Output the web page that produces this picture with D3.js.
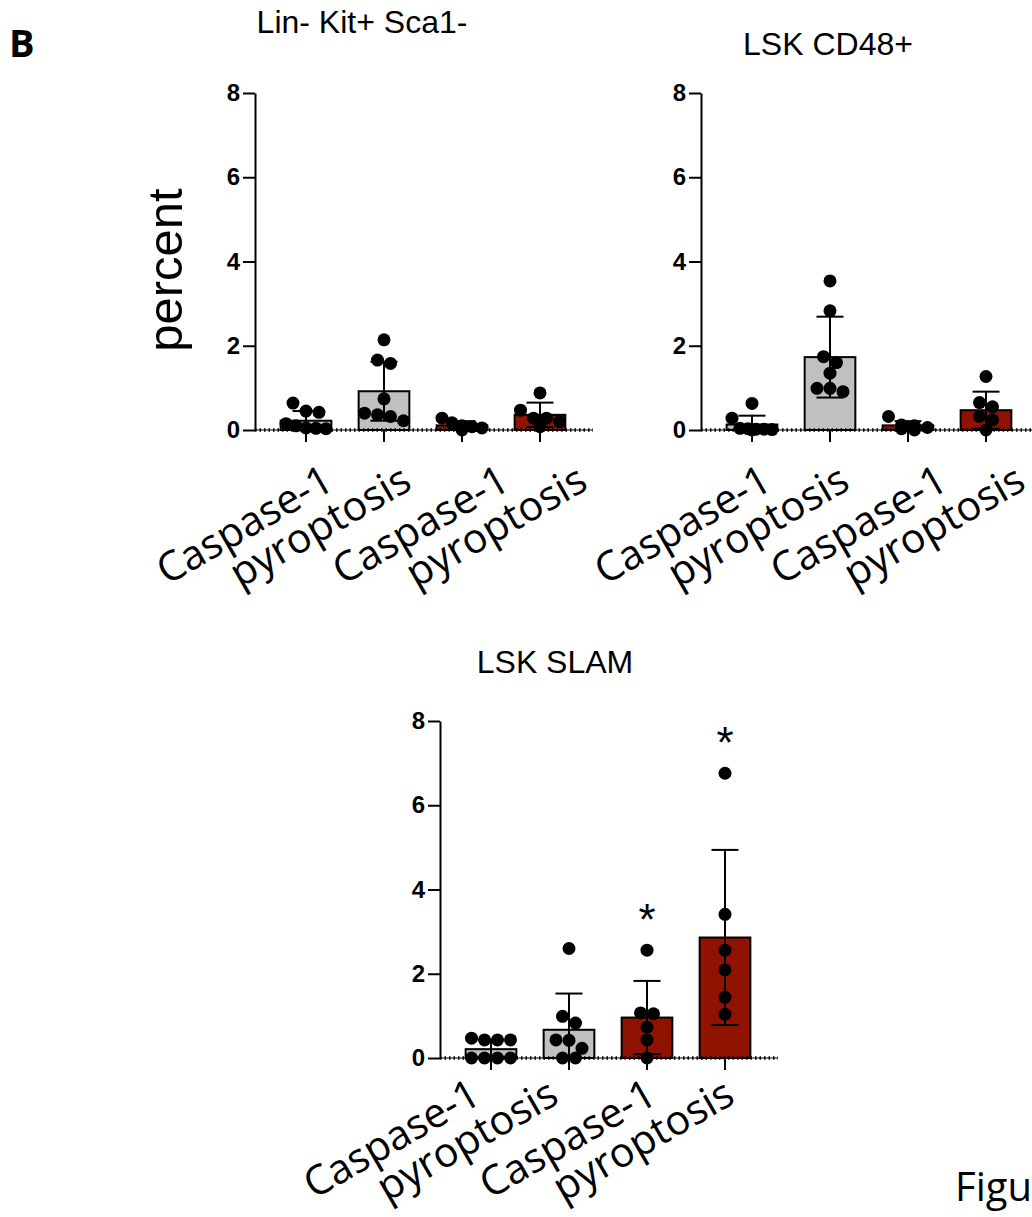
<!doctype html>
<html>
<head>
<style>
  body { margin: 0; background: #fff; }
  .tick text { font-family: "Liberation Sans", Arial, sans-serif; }
</style>
<script src="https://d3js.org/d3.v7.min.js"></script>
</head>
<body>
<svg width="1032" height="1217"></svg>
<script>
// ---- data ----
var titles = ["Lin- Kit+ Sca1-", "LSK CD48+", "LSK SLAM"];
var groups = ["Caspase-1", "pyroptosis", "Caspase-1", "pyroptosis"];
var yTicks = [0, 2, 4, 6, 8];

// individual points per group (percent)
var linKitPoints = [
  [0.64, 0.45, 0.42, 0.15, 0.10, 0.05, 0.04, 0.03],
  [2.14, 1.66, 1.58, 0.74, 0.40, 0.36, 0.32, 0.22],
  [0.28, 0.17, 0.10, 0.08, 0.05, 0.00],
  [0.88, 0.47, 0.28, 0.28, 0.20, 0.08]
];
var cd48Points = [
  [0.63, 0.28, 0.04, 0.03, 0.02, 0.02, 0.01, 0.00],
  [3.54, 2.83, 1.74, 1.60, 1.35, 0.99, 0.99, 0.91],
  [0.32, 0.12, 0.10, 0.06, 0.03, 0.00],
  [1.27, 0.65, 0.55, 0.32, 0.24, 0.00]
];
var slamPoints = [
  [0.47, 0.43, 0.43, 0.43, 0.00, 0.00, 0.00, 0.00],
  [2.60, 0.99, 0.83, 0.43, 0.42, 0.23, 0.00, 0.00],
  [2.56, 1.07, 1.05, 0.73, 0.43, 0.00],
  [6.76, 3.41, 2.56, 2.09, 1.44, 1.04]
];

// bar heights (mean) and error bars (SD)
var linKitMean = [0.22, 0.92, 0.11, 0.36];
var linKitSd   = [0.23, 0.70, 0.10, 0.29];
var cd48Mean   = [0.13, 1.73, 0.11, 0.47];
var cd48Sd     = [0.21, 0.96, 0.10, 0.44];
var slamMean   = [0.21, 0.67, 0.96, 2.86];
var slamSd     = [0.23, 0.86, 0.87, 2.08];

// significance marks
var linKitSig = ["", "", "", ""];
var cd48Sig   = ["", "", "", ""];
var slamSig   = ["", "", "*", "*"];

var barColors = ["#c0c0c0", "#c0c0c0", "#8f1300", "#8f1300"];

var svg = d3.select("svg");

var W = 338, H = 337, r = 6.5;

var panels = [
  {x: 255, y: 93,  title: titles[0], tx: 362, ty: 33, lx: 30, ly: 58, pts: linKitPoints, mean: linKitMean, sd: linKitSd, sig: linKitSig},
  {x: 701, y: 93,  title: titles[1], tx: 828, ty: 55, lx: 22, ly: 58, pts: cd48Points,   mean: cd48Mean,   sd: cd48Sd,   sig: cd48Sig},
  {x: 440, y: 721, title: titles[2], tx: 555, ty: 673, lx: -8, ly: 44, pts: slamPoints,  mean: slamMean,   sd: slamSd,   sig: slamSig}
];

// arrange points of one column in rows, spread symmetrically (GraphPad-style scatter)
function spread(vals, y, maxHalf) {
  var d = 2 * r;
  var idx = vals.map(function(v, i) { return i; })
    .sort(function(a, b) { return vals[b] - vals[a]; });
  var out = new Array(vals.length);
  var rows = [];
  idx.forEach(function(i) {
    var last = rows[rows.length - 1];
    if (last && Math.abs(y(vals[i]) - y(vals[last[0]])) < d * 0.9) last.push(i);
    else rows.push([i]);
  });
  rows.forEach(function(row) {
    var n = row.length;
    var step = n > 1 ? Math.min(d, 2 * maxHalf / (n - 1)) : 0;
    row.forEach(function(i, k) { out[i] = (k - (n - 1) / 2) * step; });
  });
  return out;
}

panels.forEach(function(p) {
  var g = svg.append("g").attr("transform", "translate(" + p.x + "," + p.y + ")");

  var y = d3.scaleLinear().domain([0, 8]).range([H, 0]);
  var x = d3.scaleBand().domain(d3.range(groups.length)).range([12, 12 + 4 * 78]);
  var bw = x.bandwidth() * 0.65;

  // bars
  g.selectAll(".bar").data(p.mean).enter().append("rect")
    .attr("x", function(d, i) { return x(i) + x.bandwidth() / 2 - bw / 2; })
    .attr("y", function(d) { return y(d); })
    .attr("width", bw)
    .attr("height", function(d) { return y(0) - y(d); })
    .attr("fill", function(d, i) { return barColors[i]; })
    .attr("stroke", "#000").attr("stroke-width", 2);

  // error bars
  var eb = g.selectAll(".err").data(p.mean).enter().append("g")
    .attr("transform", function(d, i) { return "translate(" + (x(i) + x.bandwidth() / 2) + ",0)"; });
  eb.append("line")
    .attr("y1", function(d, i) { return y(Math.max(0, d - p.sd[i])); })
    .attr("y2", function(d, i) { return y(d + p.sd[i]); })
    .attr("stroke", "#000").attr("stroke-width", 2);
  eb.append("line").attr("x1", -13.5).attr("x2", 13.5)
    .attr("y1", function(d, i) { return y(d + p.sd[i]); })
    .attr("y2", function(d, i) { return y(d + p.sd[i]); })
    .attr("stroke", "#000").attr("stroke-width", 2);
  eb.append("line").attr("x1", -13.5).attr("x2", 13.5)
    .attr("y1", function(d, i) { return y(Math.max(0, d - p.sd[i])); })
    .attr("y2", function(d, i) { return y(Math.max(0, d - p.sd[i])); })
    .attr("stroke", "#000").attr("stroke-width", 2);

  // dotted baseline
  g.append("line").attr("x1", 0).attr("x2", W).attr("y1", y(0)).attr("y2", y(0))
    .attr("stroke", "#000").attr("stroke-width", 1.2);
  g.append("line").attr("x1", 0).attr("x2", W).attr("y1", y(0)).attr("y2", y(0))
    .attr("stroke", "#000").attr("stroke-width", 3.5).attr("stroke-dasharray", "1.5,3");

  // points
  p.pts.forEach(function(vals, i) {
    var off = spread(vals, y, 20);
    g.selectAll(".pt" + i).data(vals).enter().append("circle")
      .attr("cx", function(d, k) { return x(i) + x.bandwidth() / 2 + off[k]; })
      .attr("cy", function(d) { return y(d); })
      .attr("r", r).attr("fill", "#000");
  });

  // significance
  g.selectAll(".sig").data(p.sig).enter().append("text")
    .attr("x", function(d, i) { return x(i) + x.bandwidth() / 2; })
    .attr("y", function(d, i) { return y(d3.max(p.pts[i])) - 15; })
    .attr("text-anchor", "middle")
    .style("font-family", "Liberation Sans, Arial, sans-serif")
    .style("font-size", "44px")
    .text(function(d) { return d; });

  // y axis
  var ya = g.append("g")
    .call(d3.axisLeft(y).tickValues(yTicks).tickSize(12).tickSizeOuter(0).tickPadding(3));
  ya.select(".domain").attr("stroke-width", 2);
  ya.selectAll(".tick line").attr("stroke-width", 2);
  ya.selectAll(".tick text").style("font-size", "24px").style("font-weight", "bold").attr("fill", "#000");

  // x axis ticks + labels (second pair of labels sits a little further right)
  var xa = g.append("g").attr("transform", "translate(0," + H + ")")
    .call(d3.axisBottom(x).tickSize(12).tickFormat(function(i) { return groups[i]; }));
  xa.select(".domain").remove();
  xa.selectAll(".tick line").attr("stroke-width", 2);
  xa.selectAll(".tick text")
    .attr("y", 0).attr("dy", 0)
    .attr("transform", function(i) {
      return "translate(" + (p.lx + (i >= 2 ? 20 : 0)) + "," + p.ly + ") rotate(-30)";
    })
    .style("text-anchor", "end")
    .style("font-family", "Open Sans, sans-serif")
    .style("font-size", "41px")
    .attr("fill", "#000");

  svg.append("text")
    .attr("x", p.tx).attr("y", p.ty)
    .attr("text-anchor", "middle")
    .style("font-family", "Liberation Sans, Arial, sans-serif")
    .style("font-size", "32px")
    .text(p.title);
});

svg.append("text")
  .attr("transform", "translate(182,270) rotate(-90)")
  .attr("text-anchor", "middle")
  .style("font-family", "Liberation Sans, Arial, sans-serif")
  .style("font-size", "49px")
  .text("percent");

svg.append("text").attr("x", 9).attr("y", 57)
  .style("font-family", "Open Sans, sans-serif").style("font-weight", "bold")
  .style("font-size", "38px").text("B");

svg.append("text").attr("x", 955).attr("y", 1201)
  .style("font-family", "Open Sans, sans-serif")
  .style("font-size", "40px").text("Figu");
</script>
</body>
</html>
